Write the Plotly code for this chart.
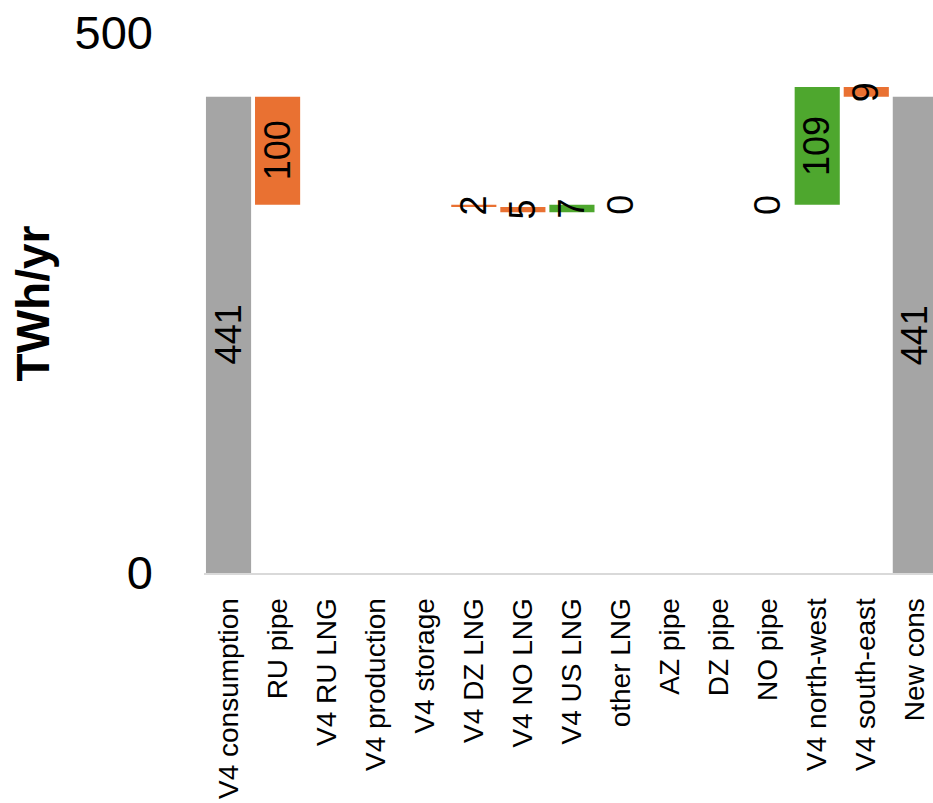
import plotly.graph_objects as go

# Gas balance for the V4 region, TWh per year
categories = [
    "V4 consumption", "RU pipe", "V4 RU LNG", "V4 production", "V4 storage",
    "V4 DZ LNG", "V4 NO LNG", "V4 US LNG", "other LNG", "AZ pipe",
    "DZ pipe", "NO pipe", "V4 north-west", "V4 south-east", "New cons",
]
values = [441, -100, None, None, None, -2, -5, 7, 0, None, None, 0, 109, -9, 441]
measures = ["absolute"] + ["relative"] * 13 + ["total"]

y_ticks = [0, 500]
y_range = [0, 500]

GRAY = "#a5a5a5"
ORANGE = "#e97132"
GREEN = "#4ea72e"
LINE = "#d9d9d9"
NUM_FONT = "Liberation Sans"

plot_vals = [0 if v is None else v for v in values]

fig = go.Figure(
    go.Waterfall(
        x=categories,
        y=plot_vals,
        measure=measures,
        increasing=dict(marker=dict(color=GREEN)),
        decreasing=dict(marker=dict(color=ORANGE)),
        totals=dict(marker=dict(color=GRAY)),
        connector=dict(visible=False),
        textposition="none",
        hoverinfo="x+y",
    )
)

# value labels, centred on each bar and rotated to read upwards
running = 0
for cat, v, m in zip(categories, values, measures):
    if m == "absolute":
        lo, hi = 0, v
        running = v
    elif m == "total":
        lo, hi = 0, running
        v = running
    else:
        step = 0 if v is None else v
        lo, hi = running, running + step
        running += step
    if v is None:
        continue
    fig.add_annotation(
        x=cat, y=(lo + hi) / 2, xref="x", yref="y",
        text=str(abs(v)), showarrow=False, textangle=-90,
        xanchor="center", yanchor="middle",
        font=dict(family=NUM_FONT, size=36, color="#000000"),
    )

fig.add_annotation(
    x=-0.234, y=0.5, xref="paper", yref="paper",
    text="<b>TWh/yr</b>", showarrow=False, textangle=-90,
    xanchor="center", yanchor="middle",
    font=dict(family=NUM_FONT, size=46, color="#000000"),
)

fig.update_layout(
    width=933, height=803,
    margin=dict(l=204, r=0, t=33, b=230, autoexpand=False),
    paper_bgcolor="white", plot_bgcolor="white",
    waterfallgap=0.08,
    showlegend=False,
    xaxis=dict(
        type="category", range=[-0.5, 14.36],
        tickangle=-90, tickfont=dict(family=NUM_FONT, size=28, color="#000000"),
        showline=True, linecolor=LINE, linewidth=2,
        showgrid=False, ticks="", ticklabelstandoff=12, automargin=False,
    ),
    yaxis=dict(
        range=y_range, tickvals=y_ticks, ticktext=[str(t) for t in y_ticks],
        tickfont=dict(family=NUM_FONT, size=47, color="#000000"),
        showgrid=True, gridcolor=LINE, gridwidth=1.5,
        zeroline=False, showline=False, ticks="",
        ticklabelstandoff=50, automargin=False,
    ),
)

fig.write_html("out.html")
